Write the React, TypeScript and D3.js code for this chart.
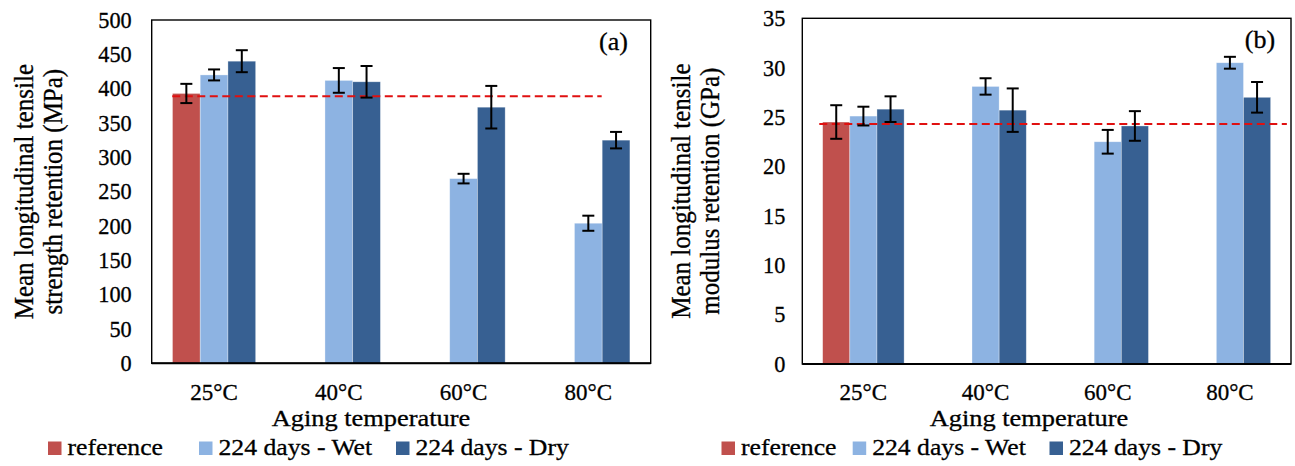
import * as d3 from "d3";

// categories and series
const categories = ["25°C", "40°C", "60°C", "80°C"];
const seriesNames = ["reference", "224 days - Wet", "224 days - Dry"];
const seriesColors = ["#C0504D", "#8DB3E2", "#376092"];

// (a) strength retention, MPa
const strengthRef = [393, null, null, null];
const strengthWet = [420, 412, 269, 204];
const strengthDry = [440, 410, 373, 325];
const strengthRefErr = [14, null, null, null];
const strengthWetErr = [8, 18, 7, 11];
const strengthDryErr = [16, 23, 31, 12];
const strengthBaseline = 389;
const strengthTicks = d3.range(0, 501, 50);

// (b) modulus retention, GPa
const modulusRef = [24.5, null, null, null];
const modulusWet = [25.1, 28.1, 22.5, 30.5];
const modulusDry = [25.8, 25.7, 24.1, 27.0];
const modulusRefErr = [1.7, null, null, null];
const modulusWetErr = [0.95, 0.83, 1.2, 0.6];
const modulusDryErr = [1.3, 2.2, 1.5, 1.55];
const modulusBaseline = 24.3;
const modulusTicks = d3.range(0, 36, 5);

const FONT = "'Liberation Serif', 'Times New Roman', serif";

type Val = number | null;

// text in the source is a little stretched sideways, so sx widens it
const Txt = ({ x, y, anchor = "start", size = 23, sx = 1, dy, children }: any) => (
  <text
    transform={`translate(${x},${y}) scale(${sx},1)`}
    textAnchor={anchor}
    fontSize={size}
    dy={dy}
    fill="#000"
    stroke="#000"
    strokeWidth={0.3}
  >
    {children}
  </text>
);

type PanelProps = {
  left: number;
  right: number;
  top: number;
  bottom: number;
  ticks: number[];
  values: Val[][];
  errors: Val[][];
  baseline: number;
  dash: [number, number];
  tag: string;
  tagX: number;
  tagY: number;
  titleLines: string[];
  titleX: number[];
  tickGap: number;
  xTitleX: number;
  legendX: number[];
};

const Panel = (p: PanelProps) => {
  const x = d3.scaleBand().domain(categories).range([p.left, p.right]);
  const inner = d3
    .scaleBand<number>()
    .domain([0, 1, 2])
    .range([0, x.bandwidth()])
    .paddingInner(0)
    .paddingOuter(0.75);
  const y = d3
    .scaleLinear()
    .domain([0, p.ticks[p.ticks.length - 1]])
    .range([p.bottom, p.top]);
  const xc = d3.scaleLinear().domain([0, 4]).range([p.left, p.right]);
  const midY = (p.top + p.bottom) / 2;

  return (
    <g>
      {/* bars */}
      {p.values.map((vals, s) =>
        vals.map((v, i) =>
          v === null ? null : (
            <rect
              key={`b${s}-${i}`}
              x={x(categories[i])! + inner(s)!}
              y={y(v)}
              width={inner.bandwidth()}
              height={y(0) - y(v)}
              fill={seriesColors[s]}
              stroke="rgba(255,255,255,0.45)"
              strokeWidth={0.7}
            />
          )
        )
      )}
      {/* reference level */}
      <line
        x1={xc(p.dash[0])}
        x2={xc(p.dash[1])}
        y1={y(p.baseline)}
        y2={y(p.baseline)}
        stroke="#e01010"
        strokeWidth={2}
        strokeDasharray="8 4.5"
      />
      {/* error bars */}
      {p.values.map((vals, s) =>
        vals.map((v, i) => {
          const e = p.errors[s][i];
          if (v === null || e === null) return null;
          const cx = x(categories[i])! + inner(s)! + inner.bandwidth() / 2;
          return (
            <g key={`e${s}-${i}`} stroke="#000" strokeWidth={2}>
              <line x1={cx} x2={cx} y1={y(v + e)} y2={y(v - e)} />
              <line x1={cx - 6} x2={cx + 6} y1={y(v + e)} y2={y(v + e)} />
              <line x1={cx - 6} x2={cx + 6} y1={y(v - e)} y2={y(v - e)} />
            </g>
          );
        })
      )}
      {/* plot box */}
      <rect
        x={p.left}
        y={p.top}
        width={p.right - p.left}
        height={p.bottom - p.top}
        fill="none"
        stroke="#000"
        strokeWidth={1.4}
      />
      <line x1={p.left} x2={p.right} y1={p.bottom} y2={p.bottom} stroke="#000" strokeWidth={2} />
      {/* y tick labels */}
      {p.ticks.map(t => (
        <Txt key={`t${t}`} x={p.left - p.tickGap} y={y(t)} anchor="end" dy="0.34em" size={23} sx={0.97}>
          {t}
        </Txt>
      ))}
      {/* category labels */}
      {categories.map(c => (
        <Txt key={c} x={x(c)! + x.bandwidth() / 2} y={400} anchor="middle" size={23}>
          {c}
        </Txt>
      ))}
      <Txt x={p.xTitleX} y={425.5} anchor="middle" size={24} sx={1.1}>
        Aging temperature
      </Txt>
      <Txt x={p.tagX} y={p.tagY} anchor="middle" size={26}>
        {p.tag}
      </Txt>
      {/* y title */}
      {p.titleLines.map((line, k) => (
        <text
          key={line}
          transform={`translate(${p.titleX[k]},${midY}) scale(1.1,1) rotate(-90)`}
          textAnchor="middle"
          fontSize={25}
          fill="#000"
          stroke="#000"
          strokeWidth={0.3}
        >
          {line}
        </text>
      ))}
      {/* legend */}
      {seriesNames.map((n, s) => (
        <g key={n}>
          <rect x={p.legendX[s]} y={441.5} width={13.5} height={13.5} fill={seriesColors[s]} />
          <Txt x={p.legendX[s] + 19.5} y={455} size={24} sx={1.07}>
            {n}
          </Txt>
        </g>
      ))}
    </g>
  );
};

export default function App() {
  return (
    <svg
      width={1295}
      height={466}
      style={{ position: "absolute", left: 0, top: 0, background: "#fff" }}
      fontFamily={FONT}
    >
      <Panel
        left={151.7}
        right={650.7}
        top={20}
        bottom={363.3}
        ticks={strengthTicks}
        values={[strengthRef, strengthWet, strengthDry]}
        errors={[strengthRefErr, strengthWetErr, strengthDryErr]}
        baseline={strengthBaseline}
        dash={[0.165, 3.607]}
        tag="(a)"
        tagX={613.5}
        tagY={50}
        titleLines={["Mean longitudinal tensile", "strength retention (MPa)"]}
        titleX={[33, 62]}
        tickGap={20}
        xTitleX={371}
        legendX={[48, 199, 396]}
      />
      <Panel
        left={802.3}
        right={1291}
        top={18.3}
        bottom={364}
        ticks={modulusTicks}
        values={[modulusRef, modulusWet, modulusDry]}
        errors={[modulusRefErr, modulusWetErr, modulusDryErr]}
        baseline={modulusBaseline}
        dash={[0.139, 3.966]}
        tag="(b)"
        tagX={1260}
        tagY={48}
        titleLines={["Mean longitudinal tensile", "modulus retention (GPa)"]}
        titleX={[690, 719]}
        tickGap={17}
        xTitleX={1029}
        legendX={[721.5, 852.7, 1049.5]}
      />
    </svg>
  );
}
